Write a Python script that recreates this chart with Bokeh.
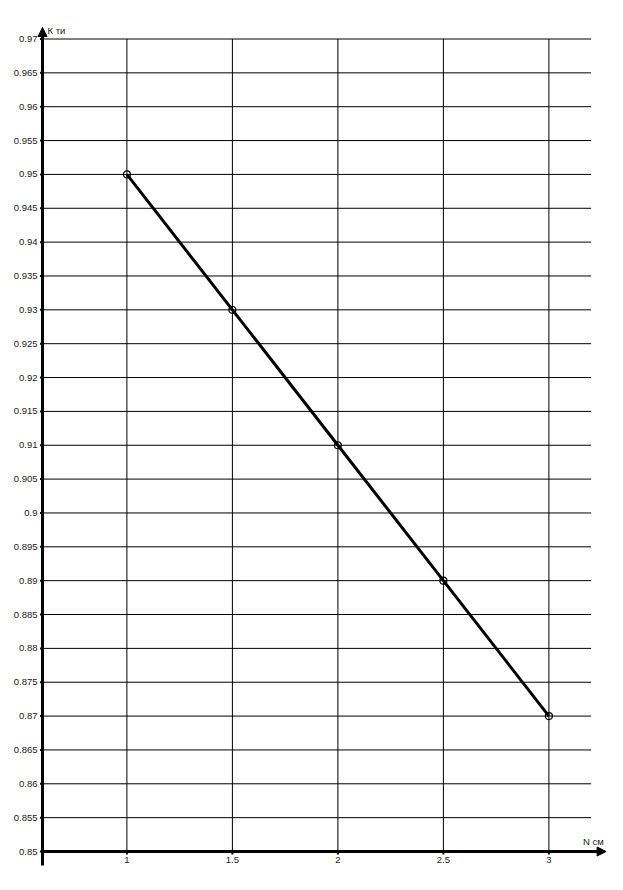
from bokeh.plotting import figure
from bokeh.models import Range1d, Arrow, NormalHead, ColumnDataSource
from bokeh.core.properties import value
from bokeh.embed import file_html
from bokeh.resources import INLINE

# data
n_values = [1, 1.5, 2, 2.5, 3]
k_values = [0.95, 0.93, 0.91, 0.89, 0.87]

x_ticks = [1, 1.5, 2, 2.5, 3]
x_tick_labels = ["1", "1.5", "2", "2.5", "3"]
y_ticks = [round(0.85 + 0.005 * i, 3) for i in range(25)]
y_tick_labels = ["%g" % v for v in y_ticks]

X_MIN, X_MAX = 0.6, 3.2
Y_MIN, Y_MAX = 0.85, 0.97

W, H = 620, 884
px_x = 211.0          # pixels per x unit
px_y = 812.5 / 0.12   # pixels per y unit
x_start = X_MIN - 42.0 / px_x
y_end = Y_MAX + 38.5 / px_y

p = figure(width=W, height=H, output_backend="svg", toolbar_location=None,
           x_range=Range1d(x_start, x_start + W / px_x),
           y_range=Range1d(y_end - H / px_y, y_end),
           min_border=0, outline_line_color=None)
p.axis.visible = False
p.grid.visible = False
p.background_fill_color = "white"
p.border_fill_color = "white"

# grid lines
p.segment(x0=[X_MIN] * len(y_ticks), x1=[X_MAX] * len(y_ticks), y0=y_ticks, y1=y_ticks,
          line_color="black", line_width=1)
p.segment(x0=x_ticks, x1=x_ticks, y0=[Y_MIN] * len(x_ticks), y1=[Y_MAX] * len(x_ticks),
          line_color="black", line_width=1)

# axes with arrows
p.add_layout(Arrow(x_start=X_MIN, y_start=Y_MIN - 14 / px_y, x_end=X_MIN, y_end=Y_MAX + 11.5 / px_y,
                   line_color="black", line_width=3,
                   end=NormalHead(size=9, fill_color="black", line_color="black", line_width=1)))
p.add_layout(Arrow(x_start=X_MIN, y_start=Y_MIN, x_end=X_MAX + 15 / px_x, y_end=Y_MIN,
                   line_color="black", line_width=3,
                   end=NormalHead(size=9, fill_color="black", line_color="black", line_width=1)))

# tick marks
p.segment(x0=[X_MIN - 2.5 / px_x] * len(y_ticks), x1=[X_MIN] * len(y_ticks), y0=y_ticks, y1=y_ticks,
          line_color="black", line_width=2)
p.segment(x0=x_ticks, x1=x_ticks, y0=[Y_MIN] * len(x_ticks), y1=[Y_MIN - 3 / px_y] * len(x_ticks),
          line_color="black", line_width=2)

# tick labels
p.text(x=[X_MIN] * len(y_ticks), y=y_ticks, text=y_tick_labels, x_offset=-5,
       text_align="right", text_baseline="middle", text_font=value("Liberation Sans"),
       text_font_size="9.5px", text_color="#222222")
p.text(x=x_ticks, y=[Y_MIN] * len(x_ticks), text=x_tick_labels, y_offset=5,
       text_align="center", text_baseline="top", text_font=value("Liberation Sans"),
       text_font_size="9.5px", text_color="#222222")

# axis titles
p.text(x=[X_MIN], y=[Y_MAX + 8.5 / px_y], text=["К ти"], x_offset=5,
       text_align="left", text_baseline="middle", text_font=value("Liberation Sans"),
       text_font_size="9.5px", text_color="#222222")
p.text(x=[X_MAX], y=[Y_MIN + 10.5 / px_y], text=["N см"], x_offset=-8,
       text_align="left", text_baseline="middle", text_font=value("Liberation Sans"),
       text_font_size="9.5px", text_color="#222222")

# data
src = ColumnDataSource(dict(n=n_values, k=k_values))
p.line("n", "k", source=src, line_color="black", line_width=3)
p.scatter("n", "k", source=src, marker="circle", size=7, fill_color=None,
          line_color="black", line_width=1.2)

open("out.html", "w").write(file_html(p, INLINE))
